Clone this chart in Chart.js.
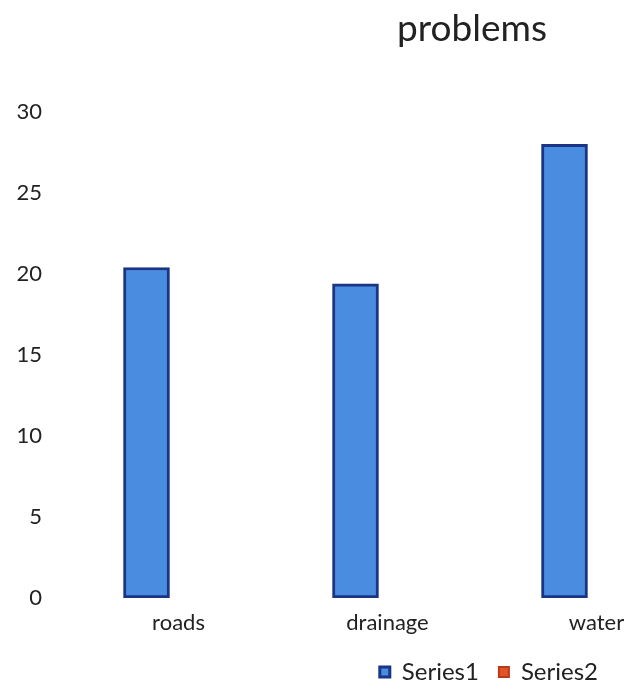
<!DOCTYPE html>
<html>
<head>
<meta charset="utf-8">
<script src="https://cdn.jsdelivr.net/npm/chart.js@4/dist/chart.umd.min.js"></script>
<style>
  html, body { margin: 0; padding: 0; background: #fff; overflow: hidden; }
  #wrap { width: 644px; height: 694px; overflow: hidden; }
  #box { position: relative; width: 669px; height: 694px; }
</style>
</head>
<body>
<div id="wrap"><div id="box"><canvas id="problemsChart"></canvas></div></div>
<script>
const categories = ["roads", "drainage", "water"];
const series1 = [20.4, 19.4, 28];
const series2 = [null, null, null];
const yTicks = [0, 5, 10, 15, 20, 25, 30];
const chartTitle = "problems";

const FONT = "Lato, 'Open Sans', sans-serif";

// the title sits right of centre in the original, so draw it by hand
const titlePlugin = {
  id: "offsetTitle",
  afterDraw(chart) {
    const ctx = chart.ctx;
    ctx.save();
    ctx.font = "37px " + FONT;
    ctx.fillStyle = "#222";
    ctx.textAlign = "center";
    ctx.textBaseline = "alphabetic";
    ctx.fillText(chartTitle, 472, 41);
    ctx.restore();
  },
};

// canvas is wider than the page (right side cropped), keep legend visible
const legendShift = {
  id: "legendShift",
  afterLayout(chart) {
    const lg = chart.legend;
    lg.left = 370;
    lg.right = 618;
    lg.width = lg.right - lg.left;
  },
};

const config = {
  type: "bar",
  data: {
    labels: categories,
    datasets: [
      {
        label: "Series1",
        data: series1,
        backgroundColor: "#4a8de0",
        borderColor: "#1a3585",
        borderWidth: 3,
        borderSkipped: false,
        barThickness: 46,
        skipNull: true,
      },
      {
        label: "Series2",
        data: series2,
        backgroundColor: "#e2532a",
        borderColor: "#b83c18",
        borderWidth: 2,
        barThickness: 46,
        skipNull: true,
      },
    ],
  },
  options: {
    responsive: true,
    maintainAspectRatio: false,
    animation: false,
    layout: {
      padding: { top: 112, bottom: 0, left: 0, right: 0 },
    },
    scales: {
      x: {
        grid: { display: false, drawTicks: false },
        border: { display: false },
        afterFit(scale) {
          scale.height = 42;
        },
        ticks: {
          color: "#222",
          font: { family: FONT, size: 22 },
          padding: 12,
          labelOffset: 32,
        },
      },
      y: {
        min: yTicks[0],
        max: yTicks[yTicks.length - 1],
        grid: { display: false, drawTicks: false },
        border: { display: false },
        afterFit(scale) {
          scale.width = 42;
        },
        afterBuildTicks(scale) {
          scale.ticks = yTicks.map((v) => ({ value: v }));
        },
        ticks: {
          color: "#222",
          font: { family: FONT, size: 22 },
          padding: 0,
        },
      },
    },
    plugins: {
      title: { display: false },
      tooltip: { enabled: false },
      legend: {
        position: "bottom",
        align: "end",
        labels: {
          color: "#222",
          font: { family: FONT, size: 24 },
          boxWidth: 10,
          boxHeight: 10,
          padding: 20,
        },
      },
    },
  },
  plugins: [titlePlugin, legendShift],
};

new Chart(document.getElementById("problemsChart"), config);
</script>
</body>
</html>
